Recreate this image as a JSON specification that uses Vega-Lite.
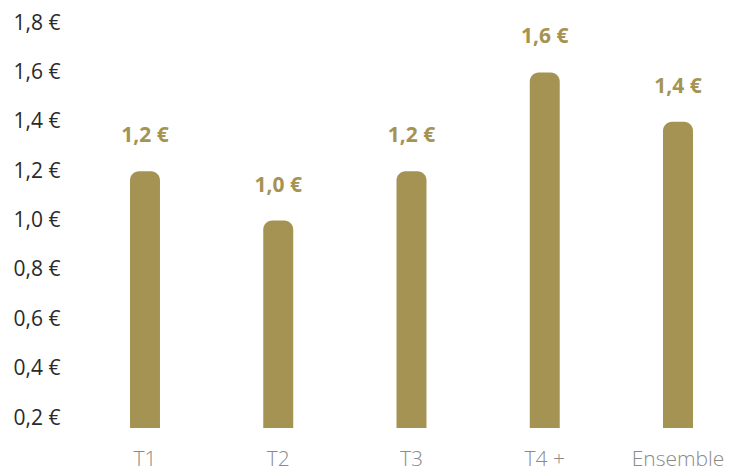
{
  "$schema": "https://vega.github.io/schema/vega-lite/v6.json",
  "autosize": {"type": "none"},
  "padding": {"left": 70, "top": 23, "right": 0, "bottom": 46},
  "width": 664,
  "height": 405,
  "background": "white",
  "config": {
    "view": {"stroke": null},
    "locale": {"number": {"decimal": ",", "thousands": " ", "grouping": [3], "currency": ["", " €"]}}
  },
  "data": {"values": [
    {"tranche": "T1", "value": 1.2},
    {"tranche": "T2", "value": 1.0},
    {"tranche": "T3", "value": 1.2},
    {"tranche": "T4 +", "value": 1.6},
    {"tranche": "Ensemble", "value": 1.4}
  ]},
  "encoding": {
    "x": {
      "field": "tranche", "type": "nominal", "sort": null,
      "scale": {"paddingInner": 0.775, "paddingOuter": 0.379, "align": 0.594},
      "axis": {"title": null, "domain": false, "ticks": false, "labelAngle": 0, "labelFont": "Open Sans", "labelFontWeight": 300, "labelFontSize": 21, "labelColor": "#8a8a8a", "labelPadding": 20}
    },
    "y": {
      "field": "value", "type": "quantitative",
      "scale": {"domain": [0.16, 1.8], "zero": false, "nice": false},
      "axis": {"title": null, "domain": false, "ticks": false, "grid": false, "values": [0.2, 0.4, 0.6, 0.8, 1.0, 1.2, 1.4, 1.6, 1.8], "format": "$.1f", "labelFont": "Open Sans", "labelFontWeight": 400, "labelFontSize": 21, "labelColor": "#2a2a2a", "labelPadding": 10}
    }
  },
  "layer": [
    {
      "mark": {"type": "bar", "color": "#a59353", "clip": true, "cornerRadiusTopLeft": 9, "cornerRadiusTopRight": 9},
      "encoding": {"y2": {"datum": 0}}
    },
    {
      "mark": {"type": "text", "color": "#a59353", "font": "Open Sans", "fontWeight": "bold", "fontSize": 21, "baseline": "alphabetic", "dy": -29},
      "encoding": {"text": {"field": "value", "type": "quantitative", "format": "$.1f"}}
    }
  ]
}
